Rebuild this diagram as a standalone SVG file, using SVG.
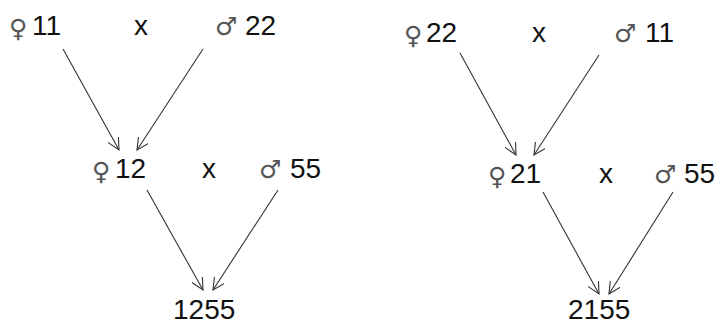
<svg xmlns="http://www.w3.org/2000/svg" width="720" height="325" viewBox="0 0 720 325">
<style>
.t{font-family:"Liberation Sans",Arial,sans-serif;font-size:28px;fill:#111}
.s{font-family:"DejaVu Sans","Noto Sans CJK SC",sans-serif;font-size:25px;fill:#555}
.c line{stroke:#333;stroke-width:1.1;marker-end:url(#a)}
</style>
<defs>
<marker id="a" markerWidth="14" markerHeight="14" refX="12" refY="6" orient="auto" markerUnits="userSpaceOnUse">
<path d="M0,0 L12,6 L0,12" fill="none" stroke="#333" stroke-width="1.1"/>
</marker>
</defs>
<rect width="720" height="325" fill="#fff"/>
<g id="f11"><text class="s" x="9" y="37">♀</text><text class="t" x="32" y="35">11</text></g>
<g id="x1"><text class="t" x="134" y="35">x</text></g>
<g id="m22"><text class="s" x="215" y="35">♂</text><text class="t" x="245" y="35">22</text></g>
<g id="f12"><text class="s" x="92" y="180">♀</text><text class="t" x="115" y="178">12</text></g>
<g id="x2"><text class="t" x="202" y="178">x</text></g>
<g id="m55a"><text class="s" x="259" y="178">♂</text><text class="t" x="290" y="178">55</text></g>
<g id="r1255"><text class="t" x="173" y="319">1255</text></g>
<g id="f22"><text class="s" x="404" y="44">♀</text><text class="t" x="426" y="42">22</text></g>
<g id="x3"><text class="t" x="532" y="42">x</text></g>
<g id="m11"><text class="s" x="614" y="42">♂</text><text class="t" x="645" y="42">11</text></g>
<g id="f21"><text class="s" x="488" y="185">♀</text><text class="t" x="510" y="183">21</text></g>
<g id="x4"><text class="t" x="599" y="183">x</text></g>
<g id="m55b"><text class="s" x="654" y="183">♂</text><text class="t" x="684" y="183">55</text></g>
<g id="r2155"><text class="t" x="568" y="319">2155</text></g>
<g class="c" id="connectors">
<line x1="63" y1="49" x2="119" y2="150"/>
<line x1="203" y1="49" x2="137" y2="150"/>
<line x1="147" y1="190" x2="203" y2="290"/>
<line x1="278" y1="190" x2="213" y2="290"/>
<line x1="460" y1="53" x2="516" y2="155"/>
<line x1="599" y1="55" x2="534" y2="155"/>
<line x1="543" y1="192" x2="599" y2="294"/>
<line x1="673" y1="192" x2="609" y2="294"/>
</g>
</svg>
